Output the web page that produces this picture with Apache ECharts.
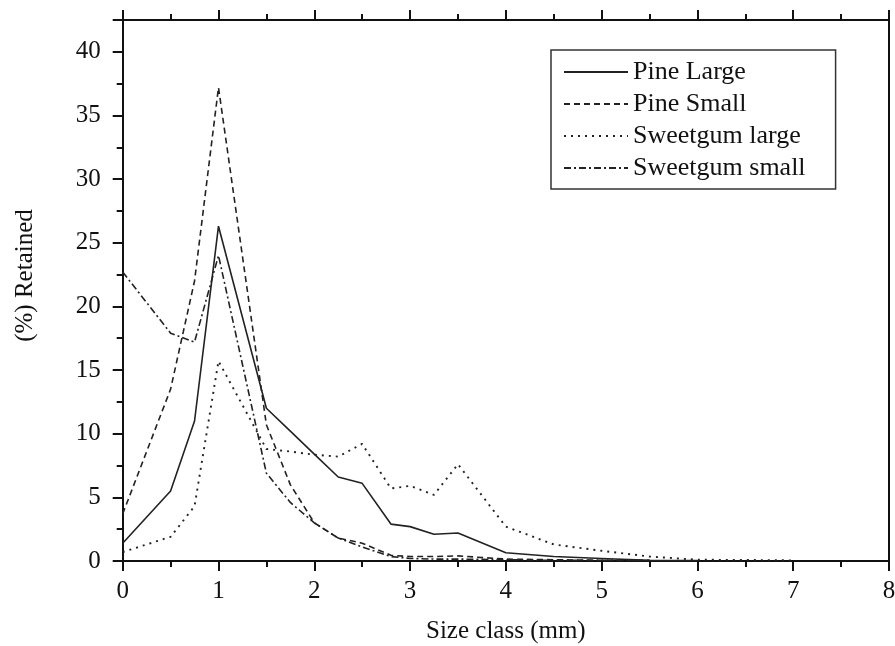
<!DOCTYPE html>
<html>
<head>
<meta charset="utf-8">
<script src="https://cdn.jsdelivr.net/npm/echarts@6/dist/echarts.min.js"></script>
<style>html,body{margin:0;padding:0;background:#fff;}#c{width:895px;height:646px;}</style>
</head>
<body>
<div id="c"></div>
<script>
// Size class (mm) positions of the readings
const sizeClass   = [0, 0.5, 0.75, 1, 1.5, 1.75, 2, 2.25, 2.5, 2.8, 3, 3.25, 3.5, 4, 4.5, 5, 5.5, 6, 6.5, 7];
const pineLarge   = [1.4, 5.5, 11.0, 26.3, 12.0, 10.2, 8.4, 6.6, 6.1, 2.9, 2.7, 2.1, 2.2, 0.65, 0.35, 0.2, 0.05, 0.03, null, null];
const pineSmall   = [3.7, 13.5, 22.0, 37.2, 10.7, 6.0, 3.0, 1.8, 1.4, 0.45, 0.35, 0.35, 0.4, 0.15, 0.1, 0.05, 0.05, null, null, null];
const sweetLarge  = [0.7, 1.9, 4.3, 15.7, 8.8, 8.6, 8.35, 8.2, 9.2, 5.7, 5.9, 5.2, 7.6, 2.7, 1.3, 0.8, 0.35, 0.1, 0.08, 0.05];
const sweetSmall  = [22.7, 17.9, 17.2, 24.0, 6.9, 4.6, 3.0, 1.8, 1.1, 0.35, 0.2, 0.15, 0.15, 0.1, 0.05, 0.05, 0.03, null, null, null];
const seriesNames = ['Pine Large', 'Pine Small', 'Sweetgum large', 'Sweetgum small'];
const xTitle = 'Size class (mm)';
const yTitle = '(%) Retained';

const FONT = '"Liberation Serif", "Times New Roman", serif';
const INK = '#111';
const pairs = arr => sizeClass.map((x, i) => [x, arr[i]]);

const dashes = ['solid', [6, 4], [2, 5], [7, 3, 2, 3]];
const widths = [1.6, 1.6, 1.9, 1.6];
const values = [pineLarge, pineSmall, sweetLarge, sweetSmall];

const chart = echarts.init(document.getElementById('c'), null, {renderer: 'canvas'});
chart.setOption({
  animation: false,
  backgroundColor: '#fff',
  grid: {left: 122.7, right: 6, top: 20, bottom: 85, containLabel: false, outerBoundsMode: 'none'},
  legend: {
    show: true,
    orient: 'vertical',
    left: 551, top: 50,
    padding: [9, 30, 8, 12],
    itemGap: 6,
    itemWidth: 64, itemHeight: 14,
    borderColor: '#333', borderWidth: 1.5,
    align: 'left',
    itemStyle: {opacity: 0, borderWidth: 0},
    textStyle: {fontFamily: FONT, fontSize: 26, color: INK},
    data: seriesNames
  },
  xAxis: [{
    type: 'value', min: 0, max: 8, interval: 1, position: 'bottom',
    name: xTitle, nameLocation: 'middle', nameGap: 58,
    nameTextStyle: {fontFamily: FONT, fontSize: 25, color: INK},
    axisLine: {show: true, onZero: false, lineStyle: {color: INK, width: 2}},
    axisTick: {show: true, inside: false, length: 10, lineStyle: {color: INK, width: 2}},
    minorTick: {show: true, splitNumber: 2, length: 6, lineStyle: {color: INK, width: 2}},
    axisLabel: {fontFamily: FONT, fontSize: 25, color: INK, margin: 18},
    splitLine: {show: false}
  }, {
    type: 'value', min: 0, max: 8, interval: 1, position: 'top',
    axisLine: {show: true, onZero: false, lineStyle: {color: INK, width: 2}},
    axisTick: {show: true, inside: false, length: 10, lineStyle: {color: INK, width: 2}},
    minorTick: {show: true, splitNumber: 2, length: 6, lineStyle: {color: INK, width: 2}},
    axisLabel: {show: false},
    splitLine: {show: false}
  }],
  yAxis: [{
    type: 'value', min: 0, max: 42.5, interval: 5, position: 'left',
    name: yTitle, nameLocation: 'middle', nameGap: 85, nameRotate: 90,
    nameTextStyle: {fontFamily: FONT, fontSize: 25, color: INK, padding: [0, 0, 0, 30]},
    axisLine: {show: true, onZero: false, lineStyle: {color: INK, width: 2}},
    axisTick: {show: true, inside: false, length: 10, lineStyle: {color: INK, width: 2}},
    minorTick: {show: true, splitNumber: 2, length: 6, lineStyle: {color: INK, width: 2}},
    axisLabel: {fontFamily: FONT, fontSize: 25, color: INK, margin: 22, showMaxLabel: false},
    splitLine: {show: false}
  }, {
    type: 'value', min: 0, max: 42.5, interval: 5, position: 'right',
    axisLine: {show: true, onZero: false, lineStyle: {color: INK, width: 2}},
    axisTick: {show: false},
    axisLabel: {show: false},
    splitLine: {show: false}
  }],
  series: seriesNames.map((name, i) => ({
    name: name,
    type: 'line',
    xAxisIndex: 0, yAxisIndex: 0,
    symbol: 'none',
    connectNulls: false,
    data: pairs(values[i]),
    lineStyle: {color: '#222', width: widths[i], type: dashes[i]},
    itemStyle: {color: '#222'}
  }))
});
</script>
</body>
</html>
